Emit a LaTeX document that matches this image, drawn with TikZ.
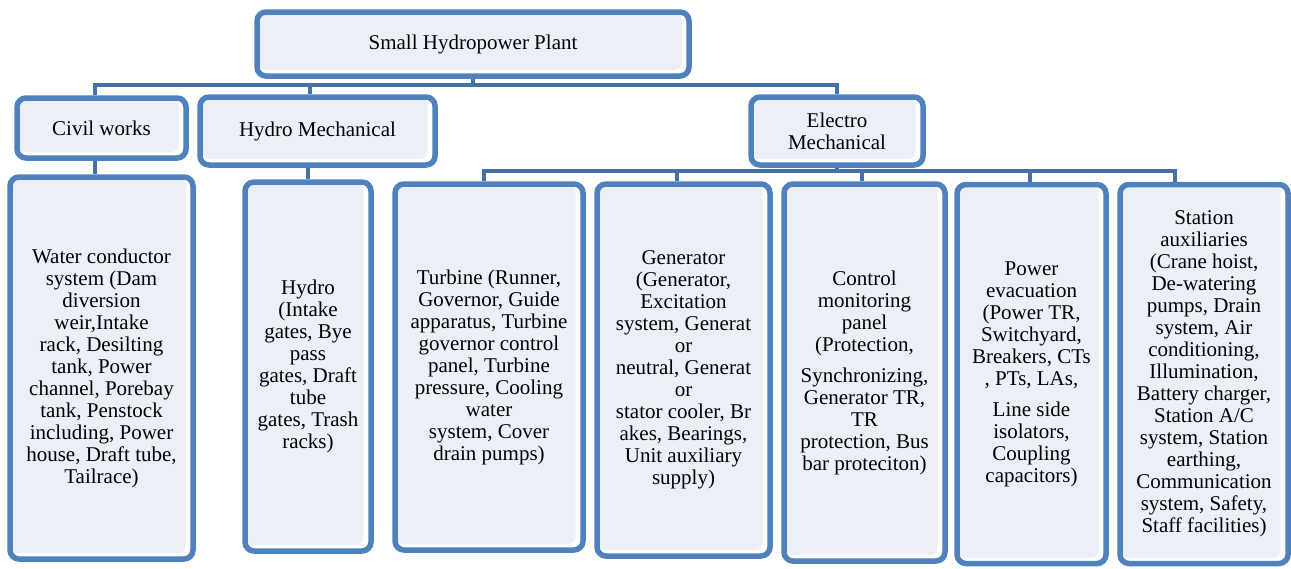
\documentclass[tikz,border=0pt]{standalone}
\usepackage{fontspec}
\setmainfont{LiberationSerif}[Extension=.ttf,UprightFont=*-Regular,BoldFont=*-Bold,ItalicFont=*-Italic,BoldItalicFont=*-BoldItalic]
\definecolor{bordc}{HTML}{4F81BD}
\definecolor{busc}{HTML}{4671A8}
\definecolor{fillc}{HTML}{EBF0F8}
\begin{document}
\begin{tikzpicture}[x=1pt,y=-1pt,
  box/.style={draw=bordc, line width=5.5pt, rounded corners=9pt, fill=white,
    inner sep=0pt, align=center, font=\rmfamily\fontsize{21}{22}\selectfont,
    path picture={\fill[fillc, rounded corners=7pt]
      ([xshift=1pt,yshift=6pt]path picture bounding box.south west) rectangle
      ([xshift=-7.5pt,yshift=-1pt]path picture bounding box.north east);}},
  conn/.style={draw=busc, line width=4pt}]
\useasboundingbox (0,0) rectangle (1291,568);
% top level
\node[box, minimum width=432, minimum height=64] (root) at (473,44) {Small Hydropower Plant};
\node[box, minimum width=169, minimum height=60] (civil) at (101.5,128) {Civil works};
\node[box, minimum width=235, minimum height=68] (hydromech) at (317.5,131) {Hydro Mechanical};
\node[box, minimum width=172, minimum height=68] (electro) at (837,131) {Electro\\Mechanical};
% bottom level
\node[box, minimum width=183, minimum height=382] (water) at (101.5,368) {Water conductor\\system (Dam\\diversion\\weir,Intake\\rack, Desilting\\tank, Power\\channel, Porebay\\tank, Penstock\\including, Power\\house, Draft tube,\\Tailrace)};
\node[box, minimum width=126, minimum height=369] (hydro) at (308,366.5) {Hydro\\(Intake\\gates, Bye\\pass\\gates, Draft\\tube\\gates, Trash\\racks)};
\node[box, minimum width=188, minimum height=366] (turbine) at (489,367) {Turbine (Runner,\\Governor, Guide\\apparatus, Turbine\\governor control\\panel, Turbine\\pressure, Cooling\\water\\system, Cover\\drain pumps)};
\node[box, minimum width=173, minimum height=372] (generator) at (683.5,370) {Generator\\(Generator,\\Excitation\\system, Generat\\or\\neutral, Generat\\or\\stator cooler, Br\\akes, Bearings,\\Unit auxiliary\\supply)};
\node[box, minimum width=161, minimum height=377] (control) at (864.5,372.5) {Control\\monitoring\\panel\\(Protection,\\[9pt]Synchronizing,\\Generator TR,\\TR\\protection, Bus\\bar proteciton)};
\node[box, minimum width=149, minimum height=379] (power) at (1031.5,374) {Power\\evacuation\\(Power TR,\\Switchyard,\\Breakers, CTs\\, PTs, LAs,\\[9pt]Line side\\isolators,\\Coupling\\capacitors)};
\node[box, minimum width=168, minimum height=379] (station) at (1204,374) {Station\\auxiliaries\\(Crane hoist,\\De-watering\\pumps, Drain\\system, Air\\conditioning,\\Illumination,\\Battery charger,\\Station A/C\\system, Station\\earthing,\\Communication\\system, Safety,\\Staff facilities)};
% top bus
\coordinate (b1) at (93,85);
\coordinate (b2) at (839,85);
\draw[conn] (b1) -- (b2);
\draw[conn] (root.south) -- (root.south |- b1);
\draw[conn] ([xshift=2pt]b1) -- ([xshift=2pt]b1 |- civil.north);
\draw[conn] (hydromech.north -| 310,0) -- (310,85);
\draw[conn] ([xshift=-2pt]b2) -- ([xshift=-2pt]b2 |- electro.north);
% second bus
\coordinate (c1) at (482,171);
\coordinate (c2) at (1177,171);
\draw[conn] (c1) -- (c2);
\draw[conn] (electro.south) -- (electro.south |- c1);
\draw[conn] ([xshift=2pt]c1) -- ([xshift=2pt]c1 |- turbine.north);
\draw[conn] (generator.north -| 677,0) -- (677,171);
\draw[conn] (control.north -| 862,0) -- (862,171);
\draw[conn] (power.north -| 1030,0) -- (1030,171);
\draw[conn] ([xshift=-2pt]c2) -- ([xshift=-2pt]c2 |- station.north);
% lower stubs
\draw[conn] (civil.south -| 95,0) -- (water.north -| 95,0);
\draw[conn] (hydromech.south -| hydro.north) -- (hydro.north);
\end{tikzpicture}
\end{document}
